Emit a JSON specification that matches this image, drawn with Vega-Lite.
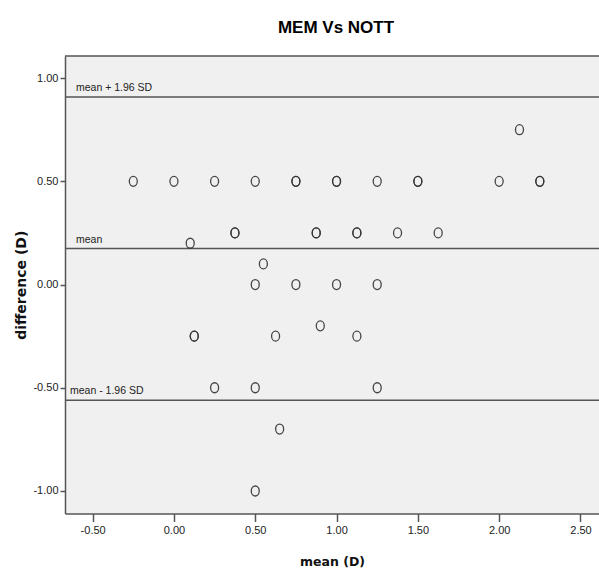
{
  "$schema": "https://vega.github.io/schema/vega-lite/v6.json",
  "autosize": "none",
  "width": 534,
  "height": 457.5,
  "padding": {"left": 65, "top": 56, "right": 0, "bottom": 58.5},
  "background": "white",
  "title": {"text": "MEM Vs NOTT", "font": "Liberation Sans", "fontSize": 17, "fontWeight": "bold", "color": "#000", "anchor": "middle", "offset": 18, "dx": 4},
  "config": {
    "view": {"stroke": null, "fill": "#f0f0f0"},
    "axis": {
      "labelFont": "Liberation Sans",
      "labelFontSize": 11,
      "labelColor": "#222",
      "domainColor": "#555",
      "domainWidth": 1.5,
      "tickColor": "#555",
      "tickWidth": 1.5,
      "titleFont": "DejaVu Sans",
      "titleFontWeight": "bold",
      "titleFontSize": 12.5,
      "titleColor": "#111",
      "grid": false
    }
  },
  "datasets": {
    "points": [
      {"mean": -0.25, "difference": 0.5},
      {"mean": 0.0, "difference": 0.5},
      {"mean": 0.25, "difference": 0.5},
      {"mean": 0.5, "difference": 0.5},
      {"mean": 0.75, "difference": 0.5},
      {"mean": 0.75, "difference": 0.5},
      {"mean": 1.0, "difference": 0.5},
      {"mean": 1.0, "difference": 0.5},
      {"mean": 1.25, "difference": 0.5},
      {"mean": 1.5, "difference": 0.5},
      {"mean": 1.5, "difference": 0.5},
      {"mean": 2.0, "difference": 0.5},
      {"mean": 2.25, "difference": 0.5},
      {"mean": 2.25, "difference": 0.5},
      {"mean": 2.125, "difference": 0.75},
      {"mean": 0.375, "difference": 0.25},
      {"mean": 0.375, "difference": 0.25},
      {"mean": 0.875, "difference": 0.25},
      {"mean": 0.875, "difference": 0.25},
      {"mean": 1.125, "difference": 0.25},
      {"mean": 1.125, "difference": 0.25},
      {"mean": 1.375, "difference": 0.25},
      {"mean": 1.625, "difference": 0.25},
      {"mean": 0.1, "difference": 0.2},
      {"mean": 0.55, "difference": 0.1},
      {"mean": 0.5, "difference": 0.0},
      {"mean": 0.75, "difference": 0.0},
      {"mean": 1.0, "difference": 0.0},
      {"mean": 1.25, "difference": 0.0},
      {"mean": 0.9, "difference": -0.2},
      {"mean": 0.125, "difference": -0.25},
      {"mean": 0.125, "difference": -0.25},
      {"mean": 0.625, "difference": -0.25},
      {"mean": 1.125, "difference": -0.25},
      {"mean": 0.25, "difference": -0.5},
      {"mean": 0.5, "difference": -0.5},
      {"mean": 1.25, "difference": -0.5},
      {"mean": 0.65, "difference": -0.7},
      {"mean": 0.5, "difference": -1.0}
    ],
    "lines": [
      {"value": 0.909, "label": "mean + 1.96 SD"},
      {"value": 0.174, "label": "mean"},
      {"value": -0.561, "label": "mean - 1.96 SD"}
    ]
  },
  "layer": [
    {
      "data": {"name": "lines"},
      "mark": {"type": "rule", "color": "#555", "strokeWidth": 1.5},
      "encoding": {
        "y": {"field": "value", "type": "quantitative", "scale": {"domain": [-1.109, 1.107], "nice": false, "zero": false},
          "axis": {"values": [-1, -0.5, 0, 0.5, 1], "labelExpr": "replace(format(datum.value, '.2f'), '\u2212', '-')", "tickSize": 5, "labelPadding": 2, "titlePadding": 4, "titleFontSize": 14, "title": "difference (D)"}}
      }
    },
    {
      "data": {"values": [{}]},
      "mark": {"type": "rule", "color": "#555", "strokeWidth": 1.5},
      "encoding": {"y": {"datum": 1.107}}
    },
    {
      "data": {"name": "lines"},
      "transform": [{"filter": "datum.value > -0.5"}],
      "mark": {"type": "text", "align": "left", "baseline": "alphabetic", "dx": 11, "dy": -6, "font": "Liberation Sans", "fontSize": 10.5, "color": "#222"},
      "encoding": {
        "x": {"datum": -0.67},
        "y": {"field": "value", "type": "quantitative"},
        "text": {"field": "label"}
      }
    },
    {
      "data": {"name": "lines"},
      "transform": [{"filter": "datum.value < -0.5"}],
      "mark": {"type": "text", "align": "left", "baseline": "alphabetic", "dx": 5, "dy": -6, "font": "Liberation Sans", "fontSize": 10.5, "color": "#222"},
      "encoding": {
        "x": {"datum": -0.67},
        "y": {"field": "value", "type": "quantitative"},
        "text": {"field": "label"}
      }
    },
    {
      "data": {"name": "points"},
      "mark": {"type": "point", "shape": "M-0.8,0A0.8,1,0,1,0,0.8,0A0.8,1,0,1,0,-0.8,0Z", "size": 100, "filled": false, "stroke": "#333", "strokeWidth": 1.3, "opacity": 0.9},
      "encoding": {
        "x": {"field": "mean", "type": "quantitative", "scale": {"domain": [-0.67, 2.614], "nice": false, "zero": false},
          "axis": {"values": [-0.5, 0, 0.5, 1, 1.5, 2, 2.5], "labelExpr": "replace(format(datum.value, '.2f'), '\u2212', '-')", "tickSize": 8, "labelPadding": 3, "titlePadding": 20, "title": "mean (D)"}},
        "y": {"field": "difference", "type": "quantitative"}
      }
    }
  ]
}
